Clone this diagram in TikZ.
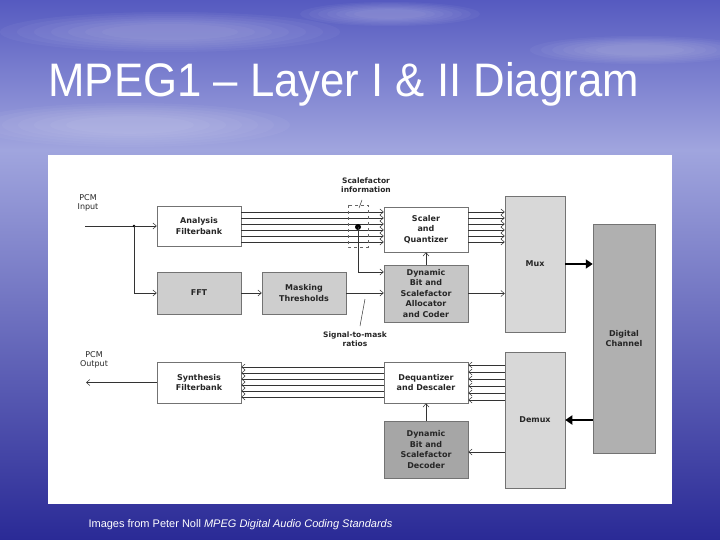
\documentclass[tikz,border=0pt]{standalone}
\usepackage{fontspec}
\setmainfont{Liberation Sans}
\newfontfamily\diafont{DejaVu Sans}
\usetikzlibrary{arrows.meta}

\definecolor{skytop}{RGB}{86,90,192}
\definecolor{skymid}{RGB}{160,165,222}
\definecolor{skybot}{RGB}{42,42,150}
\definecolor{fftfill}{RGB}{206,206,206}
\definecolor{allocfill}{RGB}{198,198,198}
\definecolor{muxfill}{RGB}{216,216,216}
\definecolor{chanfill}{RGB}{176,176,176}
\definecolor{decfill}{RGB}{166,166,166}

\tikzset{
    blk/.style={draw=black!55, line width=0.5pt, minimum width=84pt, align=center,
        font=\diafont\bfseries\fontsize{8}{10.5}\selectfont, text=black!85},
    lbl/.style={align=center, font=\diafont\fontsize{8}{9.5}\selectfont, text=black!85},
    sig/.style={draw=black!80, line width=0.5pt},
    arr/.style={sig, -{Straight Barb[length=3.5pt,width=6pt]}},
    fat/.style={draw=black, line width=2.5pt, -{Triangle[length=7pt,width=9pt]}},
    cloud/.style={white, opacity=0.04}
}

\begin{document}
\begin{tikzpicture}[x=1pt,y=-1pt]
    \useasboundingbox (0,0) rectangle (720,540);
    % slide background
    \shade[top color=skytop, bottom color=skymid] (0,0) rectangle (720,150);
    \shade[top color=skymid, bottom color=skybot] (0,150) rectangle (720,540);
    \foreach \s in {1,0.9,0.8,0.7,0.6,0.5,0.4} {
        \fill[cloud] (170,32) ellipse ({170*\s} and {20*\s});
        \fill[cloud] (390,14) ellipse ({90*\s} and {12*\s});
        \fill[cloud] (640,50) ellipse ({110*\s} and {14*\s});
        \fill[cloud] (130,125) ellipse ({160*\s} and {22*\s});
    }

    \node[anchor=base west, text=white, font=\fontsize{47}{50}\selectfont] (title) at (45,97)
        {\scalebox{0.93}[1]{MPEG1 – Layer I \& II Diagram}};

    \fill[white] (48,155) rectangle (672,504);

    % encoder
    \node[blk, minimum height=40pt] (ana) at (199,226) {Analysis\\Filterbank};
    \node[blk, minimum height=42pt, fill=fftfill] (fft) at (199,293) {FFT};
    \node[blk, minimum height=42pt, fill=fftfill] (mask) at (304,293) {Masking\\Thresholds};
    \node[blk, minimum height=45pt] (sq) at (426,229.5) {Scaler\\and\\Quantizer};
    \node[blk, minimum height=57pt, fill=allocfill] (alloc) at (426,293.5) {Dynamic\\Bit and\\Scalefactor\\Allocator\\and Coder};
    \node[blk, minimum width=60pt, minimum height=136pt, fill=muxfill] (mux) at (535,264) {Mux};
    \node[blk, minimum width=62pt, minimum height=229pt, fill=chanfill] (chan) at (624,338.5) {Digital\\Channel};

    % decoder
    \node[blk, minimum width=60pt, minimum height=136pt, fill=muxfill] (demux) at (535,420) {Demux};
    \node[blk, minimum height=41pt] (deq) at (426,382.5) {Dequantizer\\and Descaler};
    \node[blk, minimum height=57pt, fill=decfill] (dec) at (426,449.5) {Dynamic\\Bit and\\Scalefactor\\Decoder};
    \node[blk, minimum height=41pt] (syn) at (199,382.5) {Synthesis\\Filterbank};

    \node[lbl] (pcmin) at (88,203) {PCM\\Input};
    \node[lbl] (pcmout) at (94,360) {PCM\\Output};
    \node[lbl, font=\diafont\bfseries\fontsize{7.5}{9.5}\selectfont] (sfinfo) at (366,185) {Scalefactor\\information};
    \node[lbl, font=\diafont\bfseries\fontsize{7.5}{9.5}\selectfont] (smr) at (355,339) {Signal-to-mask\\ratios};

    \coordinate (in) at (85,226);
    \coordinate (split) at (134,226);
    \coordinate (out) at (86,382.5);
    \coordinate (sfdot) at (358,227);

    \draw[arr] (in) -- (ana);
    \fill[black] (split) circle (1.4);
    \draw[arr] (split) |- (fft);
    \draw[arr] (fft) -- (mask);
    \draw[arr] (mask.east) -- (mask.east -| alloc.west);
    \foreach \y in {212,218,...,242}
        \draw[arr] (ana.east |- 0,\y) -- (sq.west |- 0,\y);
    \draw[dashed, black!60] (348,205) rectangle (368,247);
    \draw[sig] (362,200) -- (359,208);
    \fill[black] (sfdot) circle (3);
    \draw[arr] (sfdot) |- (alloc.west |- 0,272);
    \draw[arr] (alloc) -- (sq);
    \draw[sig] (365,299) -- (360,326);
    \foreach \y in {212,218,...,242}
        \draw[arr] (sq.east |- 0,\y) -- (mux.west |- 0,\y);
    \draw[arr] (alloc.east) -- (alloc.east -| mux.west);
    \draw[fat] (mux.east) -- (mux.east -| chan.west);

    \draw[fat] (demux.east -| chan.west) -- (demux.east);
    \foreach \y in {365,372,...,400}
        \draw[arr] (demux.west |- 0,\y) -- (deq.east |- 0,\y);
    \draw[arr] (demux.west |- 0,452) -- (dec.east |- 0,452);
    \draw[arr] (dec) -- (deq);
    \foreach \y in {367,373,...,397}
        \draw[arr] (deq.west |- 0,\y) -- (syn.east |- 0,\y);
    \draw[arr] (syn) -- (out);

    \node[anchor=base west, text=white, font=\fontsize{11}{13}\selectfont] (credit) at (85,527)
        {Images from Peter Noll \textit{MPEG Digital Audio Coding Standards}};
\end{tikzpicture}
\end{document}
